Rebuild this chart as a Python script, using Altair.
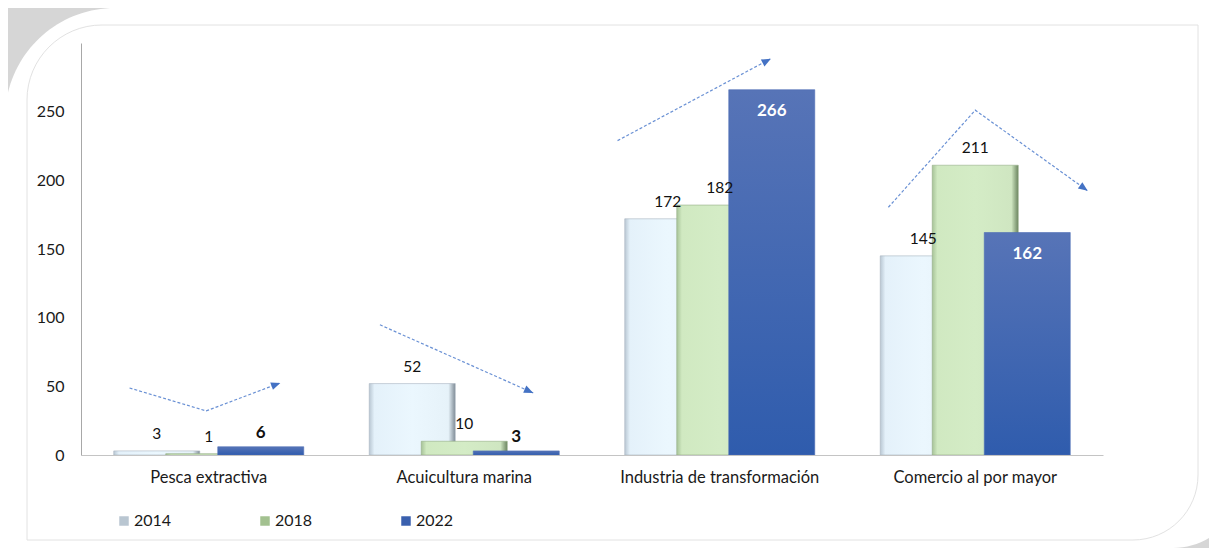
import math
import altair as alt
import pandas as pd

# ---------------- data ----------------
categories = ["Pesca extractiva", "Acuicultura marina",
              "Industria de transformación", "Comercio al por mayor"]
years = ["2014", "2018", "2022"]
values_2014 = [3, 52, 172, 145]
values_2018 = [1, 10, 182, 211]
values_2022 = [6, 3, 266, 162]
y_ticks = [0, 50, 100, 150, 200, 250]

# trend arrows (x in category units 0..4, y in value units)
arrow_pesca_x = [0.19, 0.49, 0.78]
arrow_pesca_y = [48.8, 32.1, 52.5]
arrow_acui_x = [1.17, 1.77]
arrow_acui_y = [94.8, 45.2]
arrow_ind_x = [2.10, 2.70]
arrow_ind_y = [228.9, 288.6]
arrow_com_x = [3.16, 3.50, 3.94]
arrow_com_y = [180.4, 251.1, 192.4]

# ---------------- layout ----------------
W, H = 1022, 412
Y_MAX = 300
FONT = "Lato"

rows = []
for yr, vals in zip(years, [values_2014, values_2018, values_2022]):
    for c, v in zip(categories, vals):
        rows.append({"cat": c, "year": yr, "value": v})
bars = pd.DataFrame(rows)

arr_rows, head_rows = [], []
for name, xs, ys in [("pesca", arrow_pesca_x, arrow_pesca_y),
                     ("acui", arrow_acui_x, arrow_acui_y),
                     ("ind", arrow_ind_x, arrow_ind_y),
                     ("com", arrow_com_x, arrow_com_y)]:
    for i, (xx, yy) in enumerate(zip(xs, ys)):
        arr_rows.append({"arrow": name, "i": i, "xu": xx, "value": yy})
    dx = (xs[-1] - xs[-2]) * W / 4
    dy = -(ys[-1] - ys[-2]) * H / Y_MAX
    ang = math.degrees(math.atan2(dx, -dy)) % 360
    head_rows.append({"arrow": name, "xu": xs[-1], "value": ys[-1], "angle": ang})
arrows = pd.DataFrame(arr_rows)
heads = pd.DataFrame(head_rows)

x_band = alt.X("cat:N", sort=categories, title=None,
               scale=alt.Scale(paddingInner=0.3894, paddingOuter=0.1947),
               axis=alt.Axis(labelAngle=0, ticks=False, labelPadding=14,
                             labelFontSize=16.5, labelColor="#1a1a1a", labelLimit=0,
                             domainColor="#c4c4c4", labelFont=FONT, zindex=1))
x_off = alt.XOffset("year:N", scale=alt.Scale(domain=years, paddingInner=0, paddingOuter=0))
y_enc = alt.Y("value:Q", title=None,
              scale=alt.Scale(domain=[0, Y_MAX], nice=False),
              axis=alt.Axis(values=y_ticks, ticks=False, grid=False, labelPadding=17,
                            labelFontSize=16, labelColor="#1a1a1a",
                            domainColor="#a8a8a8", labelFont=FONT, zindex=1))

# ---------------- decoration: card ----------------
one = pd.DataFrame({"k": [0]})
card = alt.Chart(one).mark_rect(
    fill="white", cornerRadiusTopLeft=110, cornerRadiusBottomRight=70
).encode(x=alt.value(-76), x2=alt.value(W + 140), y=alt.value(-35), y2=alt.value(H + 93))
inner = alt.Chart(one).mark_rect(
    fill="white", fillOpacity=0, stroke="#e2e2e2", strokeWidth=1,
    cornerRadiusTopLeft=75, cornerRadiusBottomRight=65
).encode(x=alt.value(-54), x2=alt.value(1117), y=alt.value(-18), y2=alt.value(497))

# ---------------- legend (invisible bars) ----------------
legend_layer = alt.Chart(bars).mark_bar(opacity=0).encode(
    x=x_band, xOffset=x_off, y=y_enc,
    color=alt.Color("year:N", scale=alt.Scale(domain=years,
                                              range=["#b9c6d1", "#a3c190", "#3a60ae"]),
                    legend=alt.Legend(orient="none", legendX=35, legendY=470,
                                      direction="horizontal", title=None,
                                      symbolType="square", symbolSize=90,
                                      symbolOpacity=1, symbolStrokeWidth=0,
                                      labelFontSize=16, labelFont=FONT,
                                      labelColor="#1a1a1a", labelOffset=2,
                                      columnPadding=85, padding=0, zindex=1))
)

grad_2014 = {"gradient": "linear", "x1": 0, "x2": 1, "y1": 0, "y2": 0,
             "stops": [{"offset": 0, "color": "#b9c7d3"},
                       {"offset": 0.06, "color": "#e4f1fa"},
                       {"offset": 0.5, "color": "#ebf7fe"},
                       {"offset": 0.92, "color": "#e6f2f9"},
                       {"offset": 1, "color": "#7f8b95"}]}
grad_2018 = {"gradient": "linear", "x1": 0, "x2": 1, "y1": 0, "y2": 0,
             "stops": [{"offset": 0, "color": "#a7c398"},
                       {"offset": 0.06, "color": "#d0e9c1"},
                       {"offset": 0.5, "color": "#d4ecc6"},
                       {"offset": 0.92, "color": "#cfe6c1"},
                       {"offset": 1, "color": "#6b8560"}]}
grad_2022 = {"gradient": "linear", "x1": 0, "x2": 0, "y1": 0, "y2": 1,
             "stops": [{"offset": 0, "color": "#5774b7"},
                       {"offset": 1, "color": "#2f5cad"}]}

bar_layers = []
for yr, g, stroke in [("2014", grad_2014, "#a9b6c1"),
                      ("2018", grad_2018, "#93ad85"),
                      ("2022", grad_2022, "#4d6db5")]:
    bar_layers.append(
        alt.Chart(bars).transform_filter(alt.datum.year == yr)
        .mark_bar(width=86, fill=g, stroke=stroke, strokeWidth=0.6)
        .encode(x=x_band, xOffset=x_off, y=y_enc)
    )

txt_base = alt.Chart(bars).encode(x=x_band, xOffset=x_off, y=y_enc,
                                  text=alt.Text("value:Q"))
txt_normal = txt_base.transform_filter(alt.datum.year != "2022").mark_text(
    dy=-17, fontSize=15.5, font=FONT, color="#111111")
txt_bold_out = txt_base.transform_filter(
    (alt.datum.year == "2022") & (alt.datum.value <= 100)).mark_text(
    dy=-14, fontSize=17, font=FONT, fontWeight="bold", color="#111111")
txt_bold_in = txt_base.transform_filter(
    (alt.datum.year == "2022") & (alt.datum.value > 100)).mark_text(
    dy=21, fontSize=17, font=FONT, fontWeight="bold", color="white")

main = alt.layer(
    card, inner, legend_layer, *bar_layers, txt_normal, txt_bold_out, txt_bold_in
).resolve_scale(x="shared", y="shared")

xq = alt.X("xu:Q", scale=alt.Scale(domain=[0, 4], nice=False, zero=False), axis=None)
lines = alt.Chart(arrows).mark_line(
    strokeDash=[3, 2], color="#4f7ccc", strokeWidth=1.2, opacity=0.85
).encode(x=xq, y=y_enc, detail="arrow:N", order="i:Q")
tips = alt.Chart(heads).mark_point(
    shape="M0,0 L-0.5,1.2 L0.5,1.2 Z", filled=True, size=240,
    color="#4472c4", opacity=1
).encode(x=xq, y=y_enc, angle=alt.Angle("angle:Q", scale=None))
annot = alt.layer(lines, tips)

chart = alt.layer(main, annot).resolve_scale(x="independent").properties(
    width=W, height=H,
    autosize=alt.AutoSizeParams(type="none"),
    padding={"left": 73, "top": 35, "right": 106, "bottom": 93},
    background="#d6d6d6",
).configure_view(stroke=None)

chart.save("out.html", embed_options={"renderer": "svg", "actions": False})
